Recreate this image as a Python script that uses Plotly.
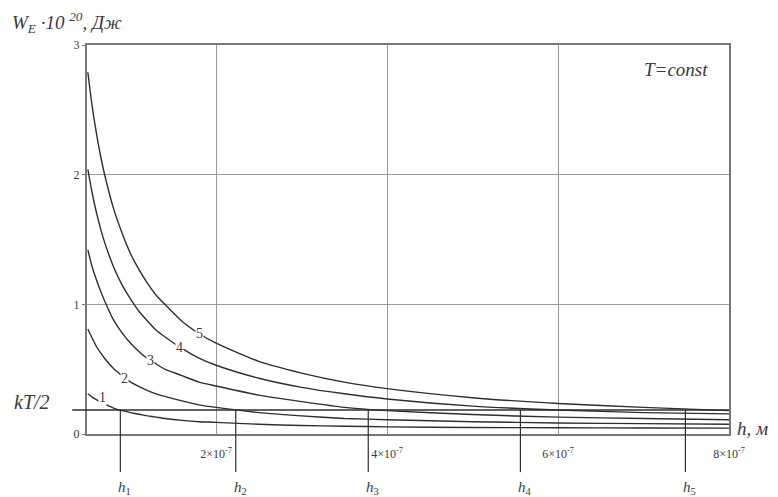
import plotly.graph_objects as go

# h in units of 1e-7 m
h = [0.5, 0.55, 0.6, 0.65, 0.7, 0.8, 0.9, 1.0, 1.1, 1.2, 1.3, 1.4, 1.6, 1.8, 2.0, 2.5, 3.0, 3.5, 4.0, 5.0, 6.0, 7.0, 8.0]
curve1 = [0.31, 0.285, 0.265, 0.245, 0.23, 0.20, 0.18, 0.165, 0.152, 0.14, 0.13, 0.12, 0.105, 0.095, 0.09, 0.075, 0.065, 0.06, 0.055, 0.05, 0.048, 0.046, 0.045]
curve2 = [0.81, 0.74, 0.675, 0.625, 0.58, 0.505, 0.45, 0.40, 0.365, 0.335, 0.31, 0.29, 0.255, 0.225, 0.205, 0.165, 0.14, 0.12, 0.11, 0.095, 0.085, 0.08, 0.075]
curve3 = [1.42, 1.29, 1.19, 1.10, 1.02, 0.88, 0.78, 0.70, 0.635, 0.58, 0.54, 0.50, 0.45, 0.40, 0.37, 0.30, 0.25, 0.205, 0.18, 0.15, 0.13, 0.12, 0.11]
curve4 = [2.04, 1.86, 1.71, 1.58, 1.47, 1.29, 1.15, 1.04, 0.945, 0.87, 0.80, 0.75, 0.66, 0.585, 0.53, 0.43, 0.36, 0.31, 0.27, 0.215, 0.185, 0.165, 0.155]
curve5 = [2.79, 2.53, 2.32, 2.14, 1.99, 1.74, 1.55, 1.39, 1.265, 1.16, 1.07, 1.00, 0.87, 0.775, 0.70, 0.56, 0.47, 0.40, 0.35, 0.28, 0.235, 0.205, 0.18]
curves = [curve1, curve2, curve3, curve4, curve5]
curve_names = ["1", "2", "3", "4", "5"]

kT2 = 0.185
h_cross = [0.88, 2.23, 3.78, 5.56, 7.49]
h_cross_labels = ["<i>h</i><sub>1</sub>", "<i>h</i><sub>2</sub>", "<i>h</i><sub>3</sub>",
                  "<i>h</i><sub>4</sub>", "<i>h</i><sub>5</sub>"]

x_tickvals = [2, 4, 6, 8]
x_ticktext = ["2×10<sup>-7</sup>", "4×10<sup>-7</sup>", "6×10<sup>-7</sup>", "8×10<sup>-7</sup>"]
y_tickvals = [0, 1, 2, 3]
y_ticktext = ["0", "1", "2", "3"]

# label positions on curves (h, W)
label_pos = [(0.67, 0.28), (0.93, 0.43), (1.23, 0.565), (1.57, 0.67), (1.81, 0.775)]

SERIF = "Liberation Serif, Times New Roman, serif"
LINE = "#2e2e2e"
GRID = "#9a9a9a"
TXT = "#3a3a3a"

fig = go.Figure()
for name, ys in zip(curve_names, curves):
    fig.add_trace(go.Scatter(x=h, y=ys, mode="lines", name=name,
                             line=dict(color=LINE, width=1.4, shape="spline", smoothing=0.6),
                             showlegend=False, hoverinfo="skip"))

shapes = []
# kT/2 line
shapes.append(dict(type="line", xref="paper", yref="y", x0=-0.023, x1=1, y0=kT2, y1=kT2,
                   line=dict(color=LINE, width=1.3), layer="above"))
for hc in h_cross:
    shapes.append(dict(type="line", xref="x", yref="y", x0=hc, x1=hc, y0=0, y1=kT2,
                       line=dict(color=LINE, width=1.2)))
    shapes.append(dict(type="line", xref="x", yref="paper", x0=hc, x1=hc, y0=0, y1=-0.098,
                       line=dict(color=LINE, width=1.2)))

annotations = []
for name, (lx, ly) in zip(curve_names, label_pos):
    annotations.append(dict(x=lx, y=ly, xref="x", yref="y", text=name, showarrow=False,
                            font=dict(family=SERIF, size=14, color=TXT),
                            bgcolor="white", borderpad=0))
for hc, lab in zip(h_cross, h_cross_labels):
    annotations.append(dict(x=hc, y=-0.139, xref="x", yref="paper", text=lab, showarrow=False,
                            font=dict(family=SERIF, size=15, color=TXT),
                            xanchor="left", xshift=-4, yanchor="middle"))
annotations += [
    dict(x=-0.12, y=1.058, xref="paper", yref="paper", xanchor="left", yanchor="middle",
         text="<i>W<sub>E</sub> ·10 <sup>20</sup>, Дж</i>", showarrow=False,
         font=dict(family=SERIF, size=19, color=TXT)),
    dict(x=1.009, y=0.015, xref="paper", yref="paper", xanchor="left", yanchor="middle",
         text="<i>h, м</i>", showarrow=False,
         font=dict(family=SERIF, size=19, color=TXT)),
    dict(x=0.97, y=0.936, xref="paper", yref="paper", xanchor="right", yanchor="middle",
         text="<i>T=const</i>", showarrow=False,
         font=dict(family=SERIF, size=19, color=TXT)),
    dict(x=-0.117, y=kT2, xref="paper", yref="y", xanchor="left", yanchor="bottom",
         text="<i>kT/2</i>", showarrow=False, yshift=-5,
         font=dict(family=SERIF, size=20, color=TXT)),
]

# page body has an 8px margin: shrink the figure so the plot area lands where the reference has it
fig.update_layout(
    width=770, height=489,
    margin=dict(l=79, r=49, t=37, b=63),
    paper_bgcolor="white", plot_bgcolor="white",
    shapes=shapes, annotations=annotations,
    xaxis=dict(range=[0.49, 8.0], tickvals=x_tickvals, ticktext=x_ticktext,
               showgrid=True, gridcolor=GRID, gridwidth=1, zeroline=False,
               showline=True, linecolor="#777", linewidth=2, mirror=True,
               ticks="", ticklabelstandoff=8,
               tickfont=dict(family=SERIF, size=12, color=TXT)),
    yaxis=dict(range=[0, 3], tickvals=y_tickvals, ticktext=y_ticktext,
               showgrid=True, gridcolor=GRID, gridwidth=1, zeroline=False,
               showline=True, linecolor="#777", linewidth=2, mirror=True,
               ticks="outside", ticklen=3, tickcolor="#777",
               tickfont=dict(family=SERIF, size=12, color=TXT)),
)

fig.write_html("out.html")
